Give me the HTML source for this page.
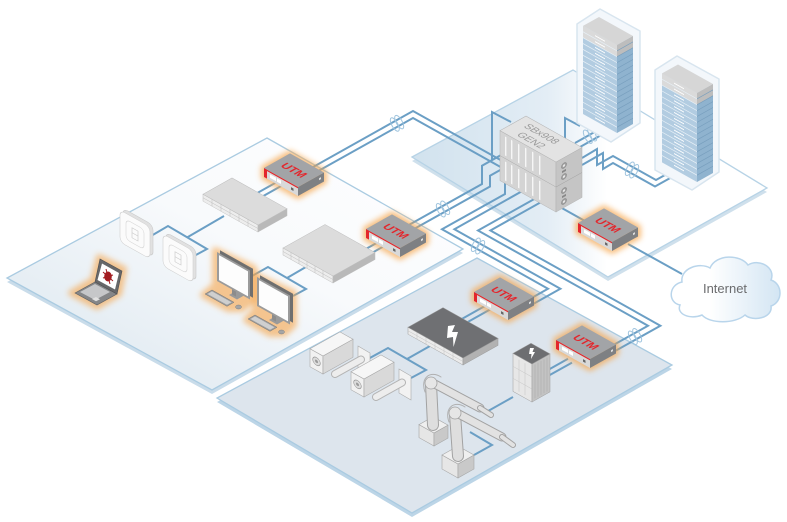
<!DOCTYPE html>
<html><head><meta charset="utf-8">
<style>
html,body{margin:0;padding:0;background:#fff;}
svg{display:block;}
text{font-family:"Liberation Sans",Arial,sans-serif;}
</style></head><body>
<svg width="787" height="522" viewBox="0 0 787 522" xmlns="http://www.w3.org/2000/svg">
<defs>
 <linearGradient id="gOff" x1="0" y1="1" x2="1" y2="0"><stop offset="0" stop-color="#d9e5ee"/><stop offset="0.55" stop-color="#f8fafc"/><stop offset="1" stop-color="#ffffff"/></linearGradient>
 <linearGradient id="gDC" x1="0" y1="0" x2="1" y2="0"><stop offset="0" stop-color="#d1e2ee"/><stop offset="0.38" stop-color="#e3edf5"/><stop offset="0.55" stop-color="#ffffff"/></linearGradient>
 <linearGradient id="gCloud" x1="0" y1="0" x2="1" y2="0"><stop offset="0.35" stop-color="#ffffff"/><stop offset="1" stop-color="#d3e5f3"/></linearGradient>
 <filter id="blur" x="-50%" y="-50%" width="200%" height="200%"><feGaussianBlur stdDeviation="3"/></filter>
</defs>
<rect width="787" height="522" fill="#fff"/>

<!-- platforms -->
<polygon points="412,161 573,74 767,192 608,281" fill="#cfe0ec"/>
<polygon points="412,157 573,70 767,188 608,277" fill="url(#gDC)" stroke="#b7d3e6" stroke-width="1.3"/>
<polygon points="267,142 463,253 212,394 7,282" fill="#c9dcea"/>
<polygon points="267,138 463,249 212,390 7,278" fill="url(#gOff)" stroke="#aacbe1" stroke-width="1.3"/>
<polygon points="477,262 672,369 412,517 217,402" fill="#bcd5e7"/>
<polygon points="477,258 672,365 412,513 217,398" fill="#dde5ed" stroke="#aacbe1" stroke-width="1.3"/>

<!-- cables -->
<g fill="none" stroke="#6b9fc5" stroke-width="2">
 <polyline points="151,236 168,226 207,249 194,256"/>
 <polyline points="187,237.5 224,216"/>
 <polyline points="252,276 268,267 306,289 293,296"/>
 <polyline points="287,278 311,264"/>
 <polyline points="252,196 280,180.3"/>
 <polyline points="258,199 286,183.3"/>
 <polyline points="348,259 384,238.8"/>
 <polyline points="354,263 390,242.8"/>
 <polyline points="460,320 488,304.3"/>
 <polyline points="466,323 494,307.3"/>
 <polyline points="368,359 388,348 426,370 411,378"/>
 <polyline points="407,359 430,346"/>
 <polyline points="513,397 487,411.6"/>
 <polyline points="470,432 492,445 474,455"/>
 <polyline points="548,370 568,358.8"/>
 <polyline points="548,376 572,362.6"/>
 <polyline points="575,143 607,125"/>
 <polyline points="580,147 612,129"/>
 <polyline points="565,141 565,118 580,126"/>
 <polyline points="492,160 492,112 511,122"/>
 <polyline points="582,158 597,149 597,165 613,156 656,180 683,165"/>
 <polyline points="582,165 603,153 603,169 613,163 655,186.5 685,169.7"/>
 <polyline points="560,207 595,226.6"/>
 <polyline points="628,244 682,274"/>
 <polyline points="310,168.7 413,111 505,162.5"/>
 <polyline points="316,172.3 413,118 505,169.5"/>
 <polyline points="510,150 482,165.7 482,184 405,227.1"/>
 <polyline points="518,160 490,175.7 490,186.5 410,231.3"/>
 <polyline points="530,168 505,182 505,194 442,229.3 548,288.7 520,304.5"/>
 <polyline points="540,181 454.4,229.3 560.4,288.8 528,306.9"/>
 <polyline points="545,193 478,230.5 648,325.7 604,350.3"/>
 <polyline points="555,194.3 490.4,230.5 660.4,325.7 612,352.8"/>
</g>
<!-- cable loops -->
<g fill="none" stroke="#9fc4de" stroke-width="1">
 <g transform="translate(397,123.3) rotate(-29)"><ellipse cx="-2.5" rx="3" ry="7.5"/><ellipse cx="2.5" rx="3" ry="7.5"/></g>
 <g transform="translate(443,209) rotate(-29)"><ellipse cx="-2.5" rx="3" ry="7.5"/><ellipse cx="2.5" rx="3" ry="7.5"/></g>
 <g transform="translate(478,246) rotate(29)"><ellipse cx="-2.5" rx="3" ry="7.5"/><ellipse cx="2.5" rx="3" ry="7.5"/></g>
 <g transform="translate(635,336.5) rotate(-29)"><ellipse cx="-2.5" rx="3" ry="7.5"/><ellipse cx="2.5" rx="3" ry="7.5"/></g>
 <g transform="translate(590,135.5) rotate(-29)"><ellipse cx="-2.5" rx="3" ry="7.5"/><ellipse cx="2.5" rx="3" ry="7.5"/></g>
 <g transform="translate(632,170) rotate(29)"><ellipse cx="-2.5" rx="3" ry="7.5"/><ellipse cx="2.5" rx="3" ry="7.5"/></g>
</g>

<!-- server racks -->
<polygon points="577,24 600,9 640,31 640,123 611,142 577,123" fill="#f3f7fb" stroke="#d8e5ef" stroke-width="1.5" stroke-linejoin="round"/>
<g transform="translate(617,133)">
 <g transform="matrix(1,.56,0,1,-34,-107.04)">
  <rect width="34" height="88" fill="#b2cce1"/>
  <rect width="34" height="11.74" fill="#dadada"/>
  <path d="M0,5.87H34M0,11.74H34M0,17.61H34M0,23.48H34M0,29.35H34M0,35.22H34M0,41.09H34M0,46.96H34M0,52.83H34M0,58.7H34M0,64.57H34M0,70.44H34M0,76.31H34M0,82.18H34" stroke="#e6eff6" stroke-width="0.8"/>
  <path d="M12,3H22M12,8.9H22M12,14.7H22M12,20.6H22M12,26.4H22M12,32.3H22M12,38.2H22M12,44H22M12,49.9H22M12,55.8H22M12,61.6H22M12,67.5H22M12,73.4H22M12,79.2H22M12,85.1H22" stroke="#ffffff" stroke-width="1"/>
 </g>
 <g transform="matrix(1,-.56,0,1,0,-88)">
  <rect width="16" height="88" fill="#8fb3cf"/>
  <rect width="16" height="11.74" fill="#bdbdbd"/>
  <path d="M0,5.87H16M0,11.74H16M0,17.61H16M0,23.48H16M0,29.35H16M0,35.22H16M0,41.09H16M0,46.96H16M0,52.83H16M0,58.7H16M0,64.57H16M0,70.44H16M0,76.31H16M0,82.18H16" stroke="#789fbe" stroke-width="0.8"/>
 </g>
 <g transform="matrix(1,.56,-1,.56,-18,-116.04)"><rect width="34" height="16" fill="#d6d6d6"/></g>
</g>
<polygon points="655,70 677,56 719,79 719,172 692,190 655,170" fill="#f3f7fb" stroke="#d8e5ef" stroke-width="1.5" stroke-linejoin="round"/>
<g transform="translate(697,182)">
 <g transform="matrix(1,.56,0,1,-35,-108.6)">
  <rect width="35" height="89" fill="#b2cce1"/>
  <rect width="35" height="11.74" fill="#dadada"/>
  <path d="M0,5.87H35M0,11.74H35M0,17.61H35M0,23.48H35M0,29.35H35M0,35.22H35M0,41.09H35M0,46.96H35M0,52.83H35M0,58.7H35M0,64.57H35M0,70.44H35M0,76.31H35M0,82.18H35" stroke="#e6eff6" stroke-width="0.8"/>
  <path d="M12,3H22M12,8.9H22M12,14.7H22M12,20.6H22M12,26.4H22M12,32.3H22M12,38.2H22M12,44H22M12,49.9H22M12,55.8H22M12,61.6H22M12,67.5H22M12,73.4H22M12,79.2H22M12,85.1H22" stroke="#ffffff" stroke-width="1"/>
 </g>
 <g transform="matrix(1,-.56,0,1,0,-89)">
  <rect width="16" height="89" fill="#8fb3cf"/>
  <rect width="16" height="11.74" fill="#bdbdbd"/>
  <path d="M0,5.87H16M0,11.74H16M0,17.61H16M0,23.48H16M0,29.35H16M0,35.22H16M0,41.09H16M0,46.96H16M0,52.83H16M0,58.7H16M0,64.57H16M0,70.44H16M0,76.31H16M0,82.18H16" stroke="#789fbe" stroke-width="0.8"/>
 </g>
 <g transform="matrix(1,.56,-1,.56,-19,-117.56)"><rect width="35" height="16" fill="#d6d6d6"/></g>
</g>

<!-- chassis SBx908 -->
<g transform="translate(556,212)" stroke="#b2b2b2" stroke-width="0.5">
 <g transform="matrix(1,.56,0,1,-56,-81.36)">
  <rect width="56" height="50" fill="#d4d4d4"/>
  <g fill="#f6f6f6" stroke="none">
   <rect x="5" y="3" width="1.4" height="19"/><rect x="11" y="3" width="1.4" height="19"/><rect x="18" y="3" width="1.4" height="19"/><rect x="25" y="3" width="1.4" height="19"/><rect x="32" y="3" width="1.4" height="19"/><rect x="39" y="3" width="1.4" height="19"/>
   <rect x="5" y="28" width="1.4" height="19"/><rect x="11" y="28" width="1.4" height="19"/><rect x="18" y="28" width="1.4" height="19"/><rect x="25" y="28" width="1.4" height="19"/><rect x="32" y="28" width="1.4" height="19"/><rect x="39" y="28" width="1.4" height="19"/>
  </g>
  <line x1="0" y1="25" x2="56" y2="25" stroke="#a8a8a8"/>
 </g>
 <g transform="matrix(1,-.56,0,1,0,-50)">
  <rect width="26" height="50" fill="#c5c5c5"/>
  <line x1="0" y1="25" x2="26" y2="25" stroke="#a0a0a0"/>
  <g fill="#9e9e9e" stroke="#888">
   <circle cx="8" cy="8" r="2.6"/><circle cx="8" cy="19" r="2.6"/><circle cx="8" cy="33" r="2.6"/><circle cx="8" cy="44" r="2.6"/>
  </g>
  <g fill="#e6e6e6" stroke="none"><circle cx="8" cy="8" r="1.2"/><circle cx="8" cy="19" r="1.2"/><circle cx="8" cy="33" r="1.2"/><circle cx="8" cy="44" r="1.2"/></g>
  <rect x="6" y="12.5" width="4" height="2" fill="#888" stroke="none"/><rect x="6" y="37.5" width="4" height="2" fill="#888" stroke="none"/>
 </g>
 <g transform="matrix(1,.56,-1,.56,-30,-95.92)">
  <rect width="56" height="26" fill="#e3e3e3"/>
  <text x="8" y="11" font-size="9" fill="#9a9a9a" stroke="none">SBx908</text>
  <text x="12" y="22" font-size="9" fill="#9a9a9a" stroke="none">GEN2</text>
 </g>
</g>

<!-- office devices -->
<g transform="matrix(1,.56,0,1,120,210)">
 <rect x="3" y="-3.4" width="30" height="32" rx="5" fill="#e1e1e1" stroke="#c9c9c9" stroke-width="0.6"/>
 <rect width="30" height="32" rx="5" fill="#fbfbfb" stroke="#cfcfcf" stroke-width="0.6"/>
 <rect x="6" y="6" width="18" height="20" rx="4" fill="none" stroke="#d6d6d6" stroke-width="0.6"/>
 <rect x="12" y="11" width="6" height="10" fill="none" stroke="#c6c6c6" stroke-width="0.6"/>
 <line x1="12" y1="16" x2="18" y2="16" stroke="#c6c6c6" stroke-width="0.6"/>
</g>
<g transform="matrix(1,.56,0,1,163,234)">
 <rect x="3" y="-3.4" width="30" height="32" rx="5" fill="#e1e1e1" stroke="#c9c9c9" stroke-width="0.6"/>
 <rect width="30" height="32" rx="5" fill="#fbfbfb" stroke="#cfcfcf" stroke-width="0.6"/>
 <rect x="6" y="6" width="18" height="20" rx="4" fill="none" stroke="#d6d6d6" stroke-width="0.6"/>
 <rect x="12" y="11" width="6" height="10" fill="none" stroke="#c6c6c6" stroke-width="0.6"/>
 <line x1="12" y1="16" x2="18" y2="16" stroke="#c6c6c6" stroke-width="0.6"/>
</g>

<!-- laptop -->
<polygon points="71,293 97,307 119,294 124,269 99,257 93,280" fill="#f6a448" stroke="#f6a448" stroke-width="6" stroke-linejoin="round" opacity=".6" filter="url(#blur)"/>
<polygon points="75,293 95,282 117,294 97,305" fill="#858688" stroke="#5e5f61" stroke-width="0.6"/>
<polygon points="80,292 95,284 110,292 95,300" fill="#c6c7c9"/>
<polygon points="92,299 96,297 100,299.3 96,301.3" fill="#e0e0e0"/>
<polygon points="95,282 117,294 122,271 100,259" fill="#666769" stroke="#4f5052" stroke-width="0.6"/>
<polygon points="97.5,280 115,289.5 119,273 102,263.5" fill="#ffffff"/>
<g stroke="#9e1b1f" stroke-width="1">
 <line x1="103" y1="272" x2="113" y2="281"/><line x1="103" y1="278" x2="113" y2="275"/><line x1="106" y1="269" x2="110" y2="284"/>
</g>
<ellipse cx="108" cy="276.5" rx="3.8" ry="5" fill="#a31d21"/>

<!-- monitors -->
<polygon points="215,250 254,268 254,300 242,309 228,309 203,295 215,285" fill="#f6a448" stroke="#f6a448" stroke-width="6" stroke-linejoin="round" opacity=".6" filter="url(#blur)"/>
<polygon points="255,275 294,293 294,325 284,334 270,334 246,320 255,310" fill="#f6a448" stroke="#f6a448" stroke-width="6" stroke-linejoin="round" opacity=".6" filter="url(#blur)"/>
<polygon points="229,295 236,291 244,295.5 237,299.5" fill="#9a9a9a"/>
<g transform="matrix(1,.56,0,1,217,252)">
 <rect x="15" y="28" width="4" height="6" fill="#8c8c8c"/>
 <rect x="3" y="-3.4" width="33" height="29" fill="#6f6f6f"/>
 <rect width="33" height="29" fill="#9b9b9b"/>
 <rect x="2" y="2" width="29" height="25" fill="#fdfdfd"/>
</g>
<polygon points="205,294 212,290 234,302.3 227,306.3" fill="#9d9d9d" stroke="#777" stroke-width="0.5"/>
<polygon points="207.5,294 212,291.4 231.5,302.3 227,304.8" fill="#cfcfcf"/>
<ellipse cx="238.5" cy="307" rx="3" ry="2" fill="#a5a5a5" stroke="#808080" stroke-width="0.5"/>
<polygon points="269,320 276,316 284,320.5 277,324.5" fill="#9a9a9a"/>
<g transform="matrix(1,.56,0,1,257,277)">
 <rect x="15" y="28" width="4" height="6" fill="#8c8c8c"/>
 <rect x="3" y="-3.4" width="33" height="29" fill="#6f6f6f"/>
 <rect width="33" height="29" fill="#9b9b9b"/>
 <rect x="2" y="2" width="29" height="25" fill="#fdfdfd"/>
</g>
<polygon points="248,319 255,315 277,327.3 270,331.3" fill="#9d9d9d" stroke="#777" stroke-width="0.5"/>
<polygon points="250.5,319 255,316.4 274.5,327.3 270,329.8" fill="#cfcfcf"/>
<ellipse cx="281.5" cy="332" rx="3" ry="2" fill="#a5a5a5" stroke="#808080" stroke-width="0.5"/>

<!-- switch 1 -->
<g transform="translate(258,232)" stroke="#bdbdbd" stroke-width="0.5">
 <g transform="matrix(1,.56,0,1,-55,-37.8)"><rect width="55" height="7" fill="#ededed"/><line x1="0" y1="3.5" x2="55" y2="3.5"/><line x1="9" y1="0" x2="9" y2="7"/><line x1="18" y1="0" x2="18" y2="7"/><line x1="27" y1="0" x2="27" y2="7"/><line x1="36" y1="0" x2="36" y2="7"/><line x1="45" y1="0" x2="45" y2="7"/></g>
 <g transform="matrix(1,-.56,0,1,0,-7)"><rect width="29" height="7" fill="#b9b9b9"/></g>
 <g transform="matrix(1,.56,-1,.56,-26,-54.04)"><rect width="55" height="29" fill="#dcdcdc"/></g>
</g>
<!-- switch 2 -->
<g transform="translate(333,283)" stroke="#bdbdbd" stroke-width="0.5">
 <g transform="matrix(1,.56,0,1,-50,-35)"><rect width="50" height="7" fill="#ededed"/><line x1="0" y1="3.5" x2="50" y2="3.5"/><line x1="8" y1="0" x2="8" y2="7"/><line x1="16" y1="0" x2="16" y2="7"/><line x1="24" y1="0" x2="24" y2="7"/><line x1="32" y1="0" x2="32" y2="7"/><line x1="40" y1="0" x2="40" y2="7"/></g>
 <g transform="matrix(1,-.56,0,1,0,-7)"><rect width="42" height="7" fill="#b9b9b9"/></g>
 <g transform="matrix(1,.56,-1,.56,-8,-58.52)"><rect width="50" height="42" fill="#dcdcdc"/></g>
</g>

<!-- dark switch -->
<g transform="translate(463,365)" stroke="#9a9a9a" stroke-width="0.5">
 <g transform="matrix(1,.56,0,1,-55,-37.8)"><rect width="55" height="7" fill="#ebebeb"/><line x1="0" y1="3.5" x2="55" y2="3.5" stroke="#c4c4c4"/><line x1="9" y1="0" x2="9" y2="7" stroke="#c4c4c4"/><line x1="18" y1="0" x2="18" y2="7" stroke="#c4c4c4"/><line x1="27" y1="0" x2="27" y2="7" stroke="#c4c4c4"/><line x1="36" y1="0" x2="36" y2="7" stroke="#c4c4c4"/><line x1="45" y1="0" x2="45" y2="7" stroke="#c4c4c4"/></g>
 <g transform="matrix(1,-.56,0,1,0,-7)"><rect width="35" height="7" fill="#b2b2b2"/></g>
 <g transform="matrix(1,.56,-1,.56,-20,-57.4)"><rect width="55" height="35" fill="#6f7073"/></g>
</g>
<polygon points="448,326 455,325 452,332 458,332 453.5,347 453,337 447,338" fill="#ffffff"/>

<!-- cameras -->
<g>
 <polygon points="358,346 370,353 370,377 358,370" fill="#f2f2f2" stroke="#a9a9a9" stroke-width="0.6"/>
 <line x1="335" y1="374" x2="361" y2="359.5" stroke="#b4b4b4" stroke-width="8" stroke-linecap="round"/>
 <line x1="335" y1="374" x2="361" y2="359.5" stroke="#ededed" stroke-width="6" stroke-linecap="round"/>
 <g transform="translate(323,374)" stroke="#a9a9a9" stroke-width="0.6">
  <g transform="matrix(1,.56,0,1,-13,-25.28)"><rect width="13" height="18" fill="#f1f1f1"/><circle cx="6.5" cy="9" r="3.8" fill="#dcdcdc" stroke="#909090"/><circle cx="6.5" cy="9" r="1.5" fill="#9a9a9a" stroke="none"/></g>
  <g transform="matrix(1,-.56,0,1,0,-18)"><rect width="30" height="18" fill="#d9d9d9"/></g>
  <g transform="matrix(1,.56,-1,.56,17,-42.08)"><rect width="13" height="30" fill="#f6f6f6"/></g>
 </g>
</g>
<g transform="translate(41,23)">
 <polygon points="358,346 370,353 370,377 358,370" fill="#f2f2f2" stroke="#a9a9a9" stroke-width="0.6"/>
 <line x1="335" y1="374" x2="361" y2="359.5" stroke="#b4b4b4" stroke-width="8" stroke-linecap="round"/>
 <line x1="335" y1="374" x2="361" y2="359.5" stroke="#ededed" stroke-width="6" stroke-linecap="round"/>
 <g transform="translate(323,374)" stroke="#a9a9a9" stroke-width="0.6">
  <g transform="matrix(1,.56,0,1,-13,-25.28)"><rect width="13" height="18" fill="#f1f1f1"/><circle cx="6.5" cy="9" r="3.8" fill="#dcdcdc" stroke="#909090"/><circle cx="6.5" cy="9" r="1.5" fill="#9a9a9a" stroke="none"/></g>
  <g transform="matrix(1,-.56,0,1,0,-18)"><rect width="30" height="18" fill="#d9d9d9"/></g>
  <g transform="matrix(1,.56,-1,.56,17,-42.08)"><rect width="13" height="30" fill="#f6f6f6"/></g>
 </g>
</g>

<!-- robot 1 -->
<g transform="translate(434,446)" stroke="#a5a5a5" stroke-width="0.6">
 <g transform="matrix(1,.56,0,1,-15,-21.4)"><rect width="15" height="13" fill="#e6e6e6"/></g>
 <g transform="matrix(1,-.56,0,1,0,-13)"><rect width="14" height="13" fill="#c9c9c9"/></g>
 <g transform="matrix(1,.56,-1,.56,-1,-29.24)"><rect width="15" height="14" fill="#efefef"/></g>
</g>
<g stroke-linecap="round" fill="none">
 <line x1="433" y1="425" x2="431" y2="384" stroke="#a2a2a2" stroke-width="12"/>
 <line x1="433" y1="425" x2="431" y2="384" stroke="#dedede" stroke-width="10"/>
 <line x1="431" y1="382" x2="480" y2="408" stroke="#a2a2a2" stroke-width="9"/>
 <line x1="431" y1="382" x2="480" y2="408" stroke="#e2e2e2" stroke-width="7"/>
 <line x1="480" y1="408" x2="491" y2="415" stroke="#a2a2a2" stroke-width="6"/>
 <line x1="480" y1="408" x2="491" y2="415" stroke="#e2e2e2" stroke-width="4"/>
 <path d="M425,392 C420,378 430,370 441,377" stroke="#b0b0b0" stroke-width="1"/>
</g>
<circle cx="431" cy="383" r="6" fill="#e6e6e6" stroke="#a2a2a2" stroke-width="0.8"/>
<!-- robot 2 -->
<g transform="translate(458,478)" stroke="#a5a5a5" stroke-width="0.6">
 <g transform="matrix(1,.56,0,1,-16,-22.96)"><rect width="16" height="14" fill="#e6e6e6"/></g>
 <g transform="matrix(1,-.56,0,1,0,-14)"><rect width="16" height="14" fill="#c9c9c9"/></g>
 <g transform="matrix(1,.56,-1,.56,0,-31.92)"><rect width="16" height="16" fill="#efefef"/></g>
</g>
<g stroke-linecap="round" fill="none">
 <line x1="458" y1="456" x2="455" y2="414" stroke="#a2a2a2" stroke-width="12"/>
 <line x1="458" y1="456" x2="455" y2="414" stroke="#dedede" stroke-width="10"/>
 <line x1="455" y1="412" x2="502" y2="437" stroke="#a2a2a2" stroke-width="9"/>
 <line x1="455" y1="412" x2="502" y2="437" stroke="#e2e2e2" stroke-width="7"/>
 <line x1="502" y1="437" x2="513" y2="445" stroke="#a2a2a2" stroke-width="6"/>
 <line x1="502" y1="437" x2="513" y2="445" stroke="#e2e2e2" stroke-width="4"/>
 <path d="M449,422 C444,408 454,400 465,407" stroke="#b0b0b0" stroke-width="1"/>
</g>
<circle cx="455" cy="413" r="6" fill="#e6e6e6" stroke="#a2a2a2" stroke-width="0.8"/>

<!-- PLC cabinet -->
<g transform="translate(532,402)" stroke="#9e9e9e" stroke-width="0.5">
 <g transform="matrix(1,.56,0,1,-19,-48.64)"><rect width="19" height="38" fill="#e7e7e7"/><line x1="6" y1="3" x2="6" y2="35" stroke="#c6c6c6"/><line x1="12" y1="3" x2="12" y2="35" stroke="#c6c6c6"/><line x1="0" y1="13" x2="19" y2="13" stroke="#c6c6c6"/><line x1="0" y1="25" x2="19" y2="25" stroke="#c6c6c6"/></g>
 <g transform="matrix(1,-.56,0,1,0,-38)"><rect width="18" height="38" fill="#c3c3c3"/><line x1="3" y1="2" x2="3" y2="36" stroke="#a9a9a9"/><line x1="6" y1="2" x2="6" y2="36" stroke="#a9a9a9"/><line x1="9" y1="2" x2="9" y2="36" stroke="#a9a9a9"/><line x1="12" y1="2" x2="12" y2="36" stroke="#a9a9a9"/><line x1="15" y1="2" x2="15" y2="36" stroke="#a9a9a9"/></g>
 <g transform="matrix(1,.56,-1,.56,-1,-58.72)"><rect width="19" height="18" fill="#6d6e71"/></g>
</g>
<polygon points="530,348 534,348 532.5,352 535,352 531,359 531.5,354 529,354" fill="#ffffff"/>

<!-- UTM boxes -->
<g transform="translate(298,196)">
 <polygon points="0,0 -34,-19 -34,-28 -8,-42.6 26,-23.6 26,-14.6" fill="#f6a448" stroke="#f6a448" stroke-width="6" stroke-linejoin="round" opacity=".7" filter="url(#blur)"/>
 <g transform="matrix(1,.56,0,1,-34,-28.04)"><rect width="34" height="9" fill="#d9d9d9"/><rect width="34" height="1.4" fill="#e3262c"/><rect width="3" height="9" fill="#e3262c"/><rect x="6" y="3" width="6" height="3.5" fill="#fff"/><rect x="13" y="3" width="4" height="3.5" fill="#fff"/><rect x="27" y="4" width="2.5" height="2.5" fill="#666"/></g>
 <g transform="matrix(1,-.56,0,1,0,-9)"><rect width="26" height="9" fill="#7e8083"/><rect x="21" y="3" width="2" height="2" fill="#ddd"/></g>
 <g transform="matrix(1,.56,-1,.56,-8,-42.6)"><rect width="34" height="26" fill="#a2a4a7"/><text x="17" y="16.5" text-anchor="middle" font-size="10" font-weight="bold" fill="#e3262c">UTM</text></g>
</g>
<g transform="translate(400,257)">
 <polygon points="0,0 -34,-19 -34,-28 -8,-42.6 26,-23.6 26,-14.6" fill="#f6a448" stroke="#f6a448" stroke-width="6" stroke-linejoin="round" opacity=".7" filter="url(#blur)"/>
 <g transform="matrix(1,.56,0,1,-34,-28.04)"><rect width="34" height="9" fill="#d9d9d9"/><rect width="34" height="1.4" fill="#e3262c"/><rect width="3" height="9" fill="#e3262c"/><rect x="6" y="3" width="6" height="3.5" fill="#fff"/><rect x="13" y="3" width="4" height="3.5" fill="#fff"/><rect x="27" y="4" width="2.5" height="2.5" fill="#666"/></g>
 <g transform="matrix(1,-.56,0,1,0,-9)"><rect width="26" height="9" fill="#7e8083"/><rect x="21" y="3" width="2" height="2" fill="#ddd"/></g>
 <g transform="matrix(1,.56,-1,.56,-8,-42.6)"><rect width="34" height="26" fill="#a2a4a7"/><text x="17" y="16.5" text-anchor="middle" font-size="10" font-weight="bold" fill="#e3262c">UTM</text></g>
</g>
<g transform="translate(612,251)">
 <polygon points="0,0 -34,-19 -34,-28 -8,-42.6 26,-23.6 26,-14.6" fill="#f6a448" stroke="#f6a448" stroke-width="6" stroke-linejoin="round" opacity=".7" filter="url(#blur)"/>
 <g transform="matrix(1,.56,0,1,-34,-28.04)"><rect width="34" height="9" fill="#d9d9d9"/><rect width="34" height="1.4" fill="#e3262c"/><rect width="3" height="9" fill="#e3262c"/><rect x="6" y="3" width="6" height="3.5" fill="#fff"/><rect x="13" y="3" width="4" height="3.5" fill="#fff"/><rect x="27" y="4" width="2.5" height="2.5" fill="#666"/></g>
 <g transform="matrix(1,-.56,0,1,0,-9)"><rect width="26" height="9" fill="#7e8083"/><rect x="21" y="3" width="2" height="2" fill="#ddd"/></g>
 <g transform="matrix(1,.56,-1,.56,-8,-42.6)"><rect width="34" height="26" fill="#a2a4a7"/><text x="17" y="16.5" text-anchor="middle" font-size="10" font-weight="bold" fill="#e3262c">UTM</text></g>
</g>
<g transform="translate(508,320)">
 <polygon points="0,0 -34,-19 -34,-28 -8,-42.6 26,-23.6 26,-14.6" fill="#f6a448" stroke="#f6a448" stroke-width="6" stroke-linejoin="round" opacity=".7" filter="url(#blur)"/>
 <g transform="matrix(1,.56,0,1,-34,-28.04)"><rect width="34" height="9" fill="#d9d9d9"/><rect width="34" height="1.4" fill="#e3262c"/><rect width="3" height="9" fill="#e3262c"/><rect x="6" y="3" width="6" height="3.5" fill="#fff"/><rect x="13" y="3" width="4" height="3.5" fill="#fff"/><rect x="27" y="4" width="2.5" height="2.5" fill="#666"/></g>
 <g transform="matrix(1,-.56,0,1,0,-9)"><rect width="26" height="9" fill="#7e8083"/><rect x="21" y="3" width="2" height="2" fill="#ddd"/></g>
 <g transform="matrix(1,.56,-1,.56,-8,-42.6)"><rect width="34" height="26" fill="#a2a4a7"/><text x="17" y="16.5" text-anchor="middle" font-size="10" font-weight="bold" fill="#e3262c">UTM</text></g>
</g>
<g transform="translate(590,368)">
 <polygon points="0,0 -34,-19 -34,-28 -8,-42.6 26,-23.6 26,-14.6" fill="#f6a448" stroke="#f6a448" stroke-width="6" stroke-linejoin="round" opacity=".7" filter="url(#blur)"/>
 <g transform="matrix(1,.56,0,1,-34,-28.04)"><rect width="34" height="9" fill="#d9d9d9"/><rect width="34" height="1.4" fill="#e3262c"/><rect width="3" height="9" fill="#e3262c"/><rect x="6" y="3" width="6" height="3.5" fill="#fff"/><rect x="13" y="3" width="4" height="3.5" fill="#fff"/><rect x="27" y="4" width="2.5" height="2.5" fill="#666"/></g>
 <g transform="matrix(1,-.56,0,1,0,-9)"><rect width="26" height="9" fill="#7e8083"/><rect x="21" y="3" width="2" height="2" fill="#ddd"/></g>
 <g transform="matrix(1,.56,-1,.56,-8,-42.6)"><rect width="34" height="26" fill="#a2a4a7"/><text x="17" y="16.5" text-anchor="middle" font-size="10" font-weight="bold" fill="#e3262c">UTM</text></g>
</g>

<!-- Internet cloud -->
<path d="M680,305 C668,303 668,285 682,282 C680,268 700,262 710,268 C716,254 740,254 748,265 C760,258 776,268 771,280 C783,284 783,302 771,306 C773,318 753,322 745,315 C735,324 710,324 702,315 C690,320 676,314 680,305 Z" fill="url(#gCloud)" stroke="#b9d5eb" stroke-width="1.5"/>
<text x="725" y="293" text-anchor="middle" font-size="13" fill="#6b6c6e">Internet</text>
</svg>
</body></html>
